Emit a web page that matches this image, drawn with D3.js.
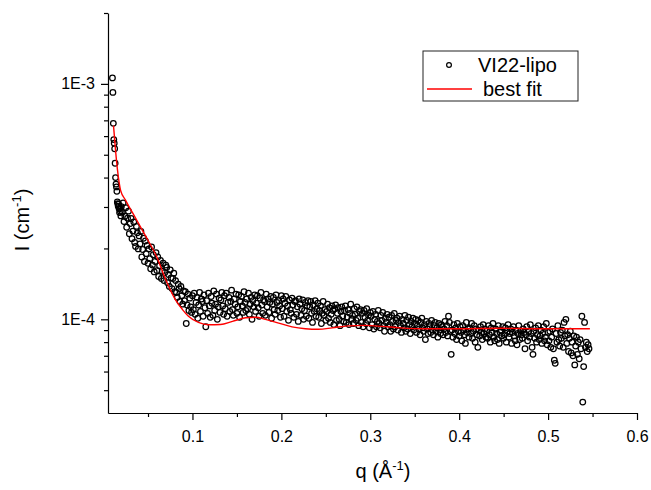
<!DOCTYPE html>
<html lang="en">
<head>
    <meta charset="UTF-8">
    <title>VI22-lipo</title>
    <style>
        body {
            margin: 0;
            background: #fff;
        }
        svg text {
            font-family: Arial, "Liberation Sans", sans-serif;
        }
    </style>
</head>

<body>
    <div id="chart-wrapper"></div>

    <script src="https://d3js.org/d3.v7.min.js"></script>
    <script>
        // measured data, q in 1/A, intensity in units of 1e-5 cm^-1
        const qValues = [
            0.0100, 0.0105, 0.0110, 0.0115, 0.0120, 0.0125, 0.0130, 0.0135, 0.0140, 0.0145,
            0.0150, 0.0155, 0.0160, 0.0165, 0.0170, 0.0175, 0.0180, 0.0185, 0.0190, 0.0195, 0.0200,
            0.021, 0.022, 0.023, 0.024, 0.025, 0.026, 0.027, 0.028, 0.029, 0.030,
            0.031, 0.032, 0.033, 0.034, 0.035, 0.036, 0.037, 0.038, 0.039, 0.040,
            0.041, 0.042, 0.043, 0.044, 0.045, 0.046, 0.047, 0.048, 0.049, 0.050,
            0.051, 0.052, 0.053, 0.054, 0.055, 0.056, 0.057, 0.058, 0.059, 0.060,
            0.061, 0.062, 0.063, 0.064, 0.065, 0.066, 0.067, 0.068, 0.069, 0.070,
            0.071, 0.072, 0.073, 0.074, 0.075, 0.076, 0.077, 0.078, 0.079, 0.080,
            0.081, 0.082, 0.083, 0.084, 0.085, 0.086, 0.087, 0.088, 0.089, 0.090,
            0.091, 0.092, 0.093, 0.094, 0.095, 0.096, 0.097, 0.098, 0.099, 0.100,
            0.101, 0.102, 0.103, 0.104, 0.105, 0.106, 0.107, 0.108, 0.109, 0.110,
            0.111, 0.112, 0.113, 0.114, 0.115, 0.116, 0.117, 0.118, 0.119, 0.120,
            0.121, 0.122, 0.123, 0.124, 0.125, 0.126, 0.127, 0.128, 0.129, 0.130,
            0.131, 0.132, 0.133, 0.134, 0.135, 0.136, 0.137, 0.138, 0.139, 0.140,
            0.141, 0.142, 0.143, 0.144, 0.145, 0.146, 0.147, 0.148, 0.149, 0.150,
            0.151, 0.152, 0.153, 0.154, 0.155, 0.156, 0.157, 0.158, 0.159, 0.160,
            0.161, 0.162, 0.163, 0.164, 0.165, 0.166, 0.167, 0.168, 0.169, 0.170,
            0.171, 0.172, 0.173, 0.174, 0.175, 0.176, 0.177, 0.178, 0.179, 0.180,
            0.181, 0.182, 0.183, 0.184, 0.185, 0.186, 0.187, 0.188, 0.189, 0.190,
            0.191, 0.192, 0.193, 0.194, 0.195, 0.196, 0.197, 0.198, 0.199, 0.200,
            0.201, 0.202, 0.203, 0.204, 0.205, 0.206, 0.207, 0.208, 0.209, 0.210,
            0.211, 0.212, 0.213, 0.214, 0.215, 0.216, 0.217, 0.218, 0.219, 0.220,
            0.221, 0.222, 0.223, 0.224, 0.225, 0.226, 0.227, 0.228, 0.229, 0.230,
            0.231, 0.232, 0.233, 0.234, 0.235, 0.236, 0.237, 0.238, 0.239, 0.240,
            0.241, 0.242, 0.243, 0.244, 0.245, 0.246, 0.247, 0.248, 0.249, 0.250,
            0.251, 0.252, 0.253, 0.254, 0.255, 0.256, 0.257, 0.258, 0.259, 0.260,
            0.261, 0.262, 0.263, 0.264, 0.265, 0.266, 0.267, 0.268, 0.269, 0.270,
            0.271, 0.272, 0.273, 0.274, 0.275, 0.276, 0.277, 0.278, 0.279, 0.280,
            0.281, 0.282, 0.283, 0.284, 0.285, 0.286, 0.287, 0.288, 0.289, 0.290,
            0.291, 0.292, 0.293, 0.294, 0.295, 0.296, 0.297, 0.298, 0.299, 0.300,
            0.301, 0.302, 0.303, 0.304, 0.305, 0.306, 0.307, 0.308, 0.309, 0.310,
            0.311, 0.312, 0.313, 0.314, 0.315, 0.316, 0.317, 0.318, 0.319, 0.320,
            0.321, 0.322, 0.323, 0.324, 0.325, 0.326, 0.327, 0.328, 0.329, 0.330,
            0.331, 0.332, 0.333, 0.334, 0.335, 0.336, 0.337, 0.338, 0.339, 0.340,
            0.341, 0.342, 0.343, 0.344, 0.345, 0.346, 0.347, 0.348, 0.349, 0.350,
            0.351, 0.352, 0.353, 0.354, 0.355, 0.356, 0.357, 0.358, 0.359, 0.360,
            0.361, 0.362, 0.363, 0.364, 0.365, 0.366, 0.367, 0.368, 0.369, 0.370,
            0.371, 0.372, 0.373, 0.374, 0.375, 0.376, 0.377, 0.378, 0.379, 0.380,
            0.381, 0.382, 0.383, 0.384, 0.385, 0.386, 0.387, 0.388, 0.389, 0.390,
            0.391, 0.392, 0.393, 0.394, 0.395, 0.396, 0.397, 0.398, 0.399, 0.400,
            0.401, 0.402, 0.403, 0.404, 0.405, 0.406, 0.407, 0.408, 0.409, 0.410,
            0.411, 0.412, 0.413, 0.414, 0.415, 0.416, 0.417, 0.418, 0.419, 0.420,
            0.421, 0.422, 0.423, 0.424, 0.425, 0.426, 0.427, 0.428, 0.429, 0.430,
            0.431, 0.432, 0.433, 0.434, 0.435, 0.436, 0.437, 0.438, 0.439, 0.440,
            0.441, 0.442, 0.443, 0.444, 0.445, 0.446, 0.447, 0.448, 0.449, 0.450,
            0.451, 0.452, 0.453, 0.454, 0.455, 0.456, 0.457, 0.458, 0.459, 0.460,
            0.461, 0.462, 0.463, 0.464, 0.465, 0.466, 0.467, 0.468, 0.469, 0.470,
            0.471, 0.472, 0.473, 0.474, 0.475, 0.476, 0.477, 0.478, 0.479, 0.480,
            0.481, 0.482, 0.483, 0.484, 0.485, 0.486, 0.487, 0.488, 0.489, 0.490,
            0.491, 0.492, 0.493, 0.494, 0.495, 0.496, 0.497, 0.498, 0.499, 0.500,
            0.501, 0.502, 0.503, 0.504, 0.505, 0.506, 0.507, 0.508, 0.509, 0.510,
            0.511, 0.512, 0.513, 0.514, 0.515, 0.516, 0.517, 0.518, 0.519, 0.520,
            0.521, 0.522, 0.523, 0.524, 0.525, 0.526, 0.527, 0.528, 0.529, 0.530,
            0.531, 0.532, 0.533, 0.534, 0.535, 0.536, 0.537, 0.538, 0.539, 0.540,
            0.541, 0.542, 0.543, 0.544, 0.545, 0.546
        ]
        const iValues = [
            106, 92, 68, 58, 56, 53, 46, 40, 37.5, 36.5,
            35, 31.5, 31, 30.2, 30.8, 29.5, 28.4, 29.6, 28.8, 27.5, 30.1,
            28.5, 31.2, 26.0, 27.4, 29.8, 24.6, 26.9, 28.8, 23.1, 25.5,
            26.8, 22.0, 23.7, 25.9, 21.2, 20.4, 24.8, 23.3, 19.9, 22.6,
            20.9, 23.6, 18.4, 19.8, 22.1, 17.6, 21.5, 19.0, 20.6, 17.3,
            19.9, 18.1, 16.4, 20.3, 17.0, 18.8, 15.9, 17.6, 19.2, 16.1,
            18.4, 15.2, 16.9, 17.8, 14.9, 16.0, 17.3, 14.6, 15.8, 17.0,
            16.6, 14.3, 15.5, 13.8, 16.2, 15.0, 13.5, 14.9, 15.7, 13.1,
            14.6, 13.0, 12.4, 14.1, 13.5, 11.9, 13.8, 12.6, 11.6, 13.2,
            12.0, 13.1, 9.6, 11.5, 12.8, 10.9, 12.3, 11.3, 10.7, 12.6,
            11.0, 12.9, 10.5, 11.8, 12.4, 10.1, 11.5, 13.0, 10.8, 12.2,
            11.9, 10.3, 12.7, 11.2, 9.3, 12.0, 10.6, 12.9, 11.4, 10.2,
            12.5, 11.7, 10.4, 13.2, 10.9, 11.6, 12.8, 10.0, 11.3, 12.3,
            10.7, 12.1, 13.0, 11.4, 10.5, 12.6, 11.1, 12.9, 10.3, 11.8,
            12.4, 10.8, 11.9, 13.3, 11.0, 10.4, 12.2, 11.6, 12.8, 10.6,
            11.3, 12.7, 10.2, 11.9, 12.5, 11.4, 10.7, 13.1, 11.8, 10.9,
            12.2, 11.1, 12.9, 10.5, 11.6, 12.4, 10.0, 12.0, 11.3, 12.7,
            10.8, 11.7, 12.6, 11.2, 10.3, 12.3, 13.0, 11.5, 10.6, 12.1,
            11.9, 10.4, 12.8, 11.3, 12.2, 10.7, 11.8, 12.5, 10.1, 11.6,
            12.4, 11.0, 10.5, 12.7, 11.8, 10.9, 12.0, 11.4, 10.2, 12.6,
            11.1, 12.2, 10.3, 11.7, 12.5, 10.8, 11.4, 9.9, 12.1, 11.0,
            10.6, 12.3, 11.5, 10.2, 11.9, 12.0, 10.5, 11.3, 9.8, 12.2,
            11.6, 10.4, 11.1, 12.1, 10.0, 10.9, 11.8, 10.3, 11.4, 12.0,
            10.1, 11.3, 11.9, 10.6, 9.7, 11.5, 10.8, 12.0, 10.3, 11.1,
            11.7, 10.2, 10.9, 11.4, 9.6, 10.6, 11.9, 10.4, 11.0, 9.9,
            10.8, 11.6, 10.1, 11.2, 9.7, 10.5, 11.4, 10.9, 9.5, 11.1,
            11.5, 9.9, 10.6, 11.2, 10.0, 9.4, 10.8, 11.3, 10.3, 9.8,
            10.9, 11.4, 9.7, 10.2, 11.0, 9.5, 10.6, 11.6, 10.0, 10.4,
            9.6, 11.1, 10.5, 9.9, 11.3, 10.1, 9.4, 10.8, 11.0, 9.7,
            10.6, 9.3, 10.9, 10.2, 9.6, 11.1, 9.9, 10.4, 9.2, 10.7,
            10.3, 9.5, 10.8, 9.1, 10.0, 10.5, 9.3, 9.8, 10.9, 9.6,
            9.2, 10.4, 9.9, 10.7, 9.4, 8.9, 10.1, 9.7, 10.5, 9.3,
            10.2, 9.5, 8.9, 10.4, 9.8, 9.1, 10.6, 9.3, 9.9, 10.1,
            9.0, 9.7, 10.3, 9.4, 8.8, 10.0, 9.6, 9.2, 10.4, 8.9,
            9.9, 9.1, 10.2, 9.5, 8.7, 9.8, 9.3, 10.1, 9.0, 9.6,
            10.0, 8.8, 9.4, 9.9, 9.1, 8.6, 9.7, 10.1, 9.2, 8.9,
            9.5, 8.2, 9.8, 9.1, 8.7, 9.6, 9.3, 8.8, 9.9, 9.0,
            8.6, 9.4, 9.7, 8.9, 9.2, 8.4, 9.6, 9.0, 8.7, 9.5,
            9.3, 8.6, 9.1, 9.8, 8.8, 9.4, 8.5, 10.3, 9.7, 8.9,
            7.1, 9.0, 8.4, 9.5, 8.7, 9.2, 8.2, 9.6, 8.9, 8.5,
            9.3, 8.8, 8.1, 9.4, 9.0, 8.6, 7.9, 9.7, 8.8, 9.1,
            8.4, 9.2, 8.7, 9.6, 8.3, 8.9, 9.4, 8.0, 9.1, 8.6,
            7.6, 9.0, 8.5, 9.3, 8.8, 8.2, 9.5, 8.7, 9.1, 8.4,
            8.9, 8.3, 9.4, 8.6, 8.0, 9.2, 8.8, 9.6, 8.4, 8.1,
            9.1, 8.7, 8.2, 9.4, 7.9, 8.8, 9.0, 8.5, 9.3, 8.3,
            8.6, 9.2, 8.0, 8.9, 9.5, 8.4, 8.7, 9.1, 7.9, 8.8,
            9.3, 8.5, 8.1, 9.0, 7.8, 8.7, 9.4, 8.2, 8.9, 8.6,
            8.3, 9.1, 8.8, 7.5, 8.6, 9.3, 8.1, 8.9, 8.4, 9.5,
            8.7, 7.6, 7.1, 8.9, 8.3, 9.2, 8.0, 8.6, 9.4, 8.2,
            8.5, 9.0, 7.9, 8.7, 9.3, 8.1, 8.4, 9.6, 7.8, 8.8,
            8.1, 8.9, 7.6, 8.4, 9.1, 7.5, 6.7, 6.5, 8.7, 8.0,
            9.4, 8.2, 7.7, 8.8, 8.3, 9.0, 7.6, 9.7, 8.5, 10.0,
            7.9, 8.6, 7.3, 8.3, 8.9, 7.2, 8.0, 7.0, 8.5, 6.4,
            7.7, 8.4, 7.1, 8.0, 6.8, 8.2, 7.5, 10.3, 4.45, 6.3,
            9.7, 7.6, 8.0, 7.3, 7.8, 7.5
        ]

        // best fit curve, same units
        const fitQ = [0.0112, 0.0135, 0.0157, 0.0191, 0.0247, 0.0360, 0.0472, 0.0596, 0.0697, 0.0809,
            0.0888, 0.0955, 0.1067, 0.118, 0.1315, 0.145, 0.160, 0.171, 0.182, 0.197,
            0.212, 0.227, 0.2416, 0.2573, 0.2753, 0.2944, 0.3135, 0.3337, 0.3618, 0.4011,
            0.446, 0.491, 0.547]
        const fitI = [66.5, 52.1, 43.0, 35.4, 32.1, 26.9, 22.6, 18.5, 14.8, 12.1,
            11.0, 10.3, 9.7, 9.48, 9.5, 9.8, 10.15, 10.2, 10.0, 9.64,
            9.29, 9.12, 9.07, 9.2, 9.38, 9.42, 9.33, 9.2, 9.12, 9.12,
            9.16, 9.12, 9.12]
        const unit = 1e-5

        const xTicks = [0.1, 0.2, 0.3, 0.4, 0.5, 0.6]
        const xMinorTicks = [0.05, 0.15, 0.25, 0.35, 0.45, 0.55]
        const yTicks = [1e-4, 1e-3]
        const yTickLabels = ['1E-4', '1E-3']
        const yMinorTicks = [5e-5, 6e-5, 7e-5, 8e-5, 9e-5,
            2e-4, 3e-4, 4e-4, 5e-4, 6e-4, 7e-4, 8e-4, 9e-4, 2e-3]
        const seriesNames = ['VI22-lipo', 'best fit']

        const width = 651
        const height = 490
        const plot = { left: 108, right: 637, top: 13, bottom: 413 }

        const svg = d3.select('#chart-wrapper')
            .append('svg')
            .attr('width', width)
            .attr('height', height)

        const x = d3.scaleLinear()
            .domain([0.005, 0.6])
            .range([plot.left, plot.right])
        const y = d3.scaleLog()
            .domain([4e-5, 2e-3])
            .range([plot.bottom, plot.top])

        // axes: major ticks with labels, minor ticks without
        svg.append('g')
            .attr('transform', `translate(0, ${plot.bottom})`)
            .call(d3.axisBottom(x).tickValues(xTicks).tickSize(7).tickSizeOuter(0).tickPadding(11)
                .tickFormat(d3.format('.1f')))
        svg.append('g')
            .attr('transform', `translate(0, ${plot.bottom})`)
            .call(d3.axisBottom(x).tickValues(xMinorTicks).tickSize(4).tickSizeOuter(0).tickFormat(''))
            .select('.domain').remove()

        svg.append('g')
            .attr('transform', `translate(${plot.left}, 0)`)
            .call(d3.axisLeft(y).tickValues(yTicks).tickSize(7).tickSizeOuter(0).tickPadding(6)
                .tickFormat((d, i) => yTickLabels[i]))
        svg.append('g')
            .attr('transform', `translate(${plot.left}, 0)`)
            .call(d3.axisLeft(y).tickValues(yMinorTicks).tickSize(4).tickSizeOuter(0).tickFormat(''))
            .select('.domain').remove()

        svg.selectAll('.domain, .tick line')
            .attr('stroke', '#000')
            .attr('stroke-width', 1.2)
        svg.selectAll('.tick text')
            .attr('font-size', 16)
            .attr('font-family', 'Arial, "Liberation Sans", sans-serif')
            .attr('fill', '#000')

        // data points
        const points = d3.zip(qValues, iValues)
        svg.append('g')
            .selectAll('circle')
            .data(points)
            .enter()
            .append('circle')
            .attr('cx', d => x(d[0]))
            .attr('cy', d => y(d[1] * unit))
            .attr('r', 2.8)
            .attr('fill', 'none')
            .attr('stroke', '#000')
            .attr('stroke-width', 1.25)

        // fit line
        const line = d3.line()
            .x(d => x(d[0]))
            .y(d => y(d[1] * unit))
            .curve(d3.curveMonotoneX)
        svg.append('path')
            .datum(d3.zip(fitQ, fitI))
            .attr('d', line)
            .attr('fill', 'none')
            .attr('stroke', '#ff0000')
            .attr('stroke-width', 1.4)

        // axis titles
        const xTitle = svg.append('text')
            .attr('x', 383)
            .attr('y', 478)
            .attr('text-anchor', 'middle')
            .attr('font-size', 20)
        xTitle.append('tspan').text('q (Å')
        xTitle.append('tspan').attr('font-size', 13).attr('dy', -8).text('-1')
        xTitle.append('tspan').attr('dy', 8).text(')')

        const yTitle = svg.append('text')
            .attr('transform', 'translate(29, 220) rotate(-90)')
            .attr('text-anchor', 'middle')
            .attr('font-size', 20)
        yTitle.append('tspan').text('I (cm')
        yTitle.append('tspan').attr('font-size', 13).attr('dy', -8).text('-1')
        yTitle.append('tspan').attr('dy', 8).text(')')

        // legend
        const legend = svg.append('g')
        legend.append('rect')
            .attr('x', 423)
            .attr('y', 51)
            .attr('width', 155)
            .attr('height', 50)
            .attr('fill', '#fff')
            .attr('stroke', '#222')
            .attr('stroke-width', 1)
        legend.append('circle')
            .attr('cx', 449)
            .attr('cy', 65)
            .attr('r', 2.4)
            .attr('fill', 'none')
            .attr('stroke', '#000')
            .attr('stroke-width', 1.2)
        legend.append('line')
            .attr('x1', 427)
            .attr('x2', 472)
            .attr('y1', 89)
            .attr('y2', 89)
            .attr('stroke', '#ff0000')
            .attr('stroke-width', 1.4)
        legend.append('text')
            .attr('x', 478)
            .attr('y', 72)
            .attr('font-size', 20)
            .text(seriesNames[0])
        legend.append('text')
            .attr('x', 483)
            .attr('y', 96)
            .attr('font-size', 20)
            .text(seriesNames[1])
    </script>
</body>
</html>
